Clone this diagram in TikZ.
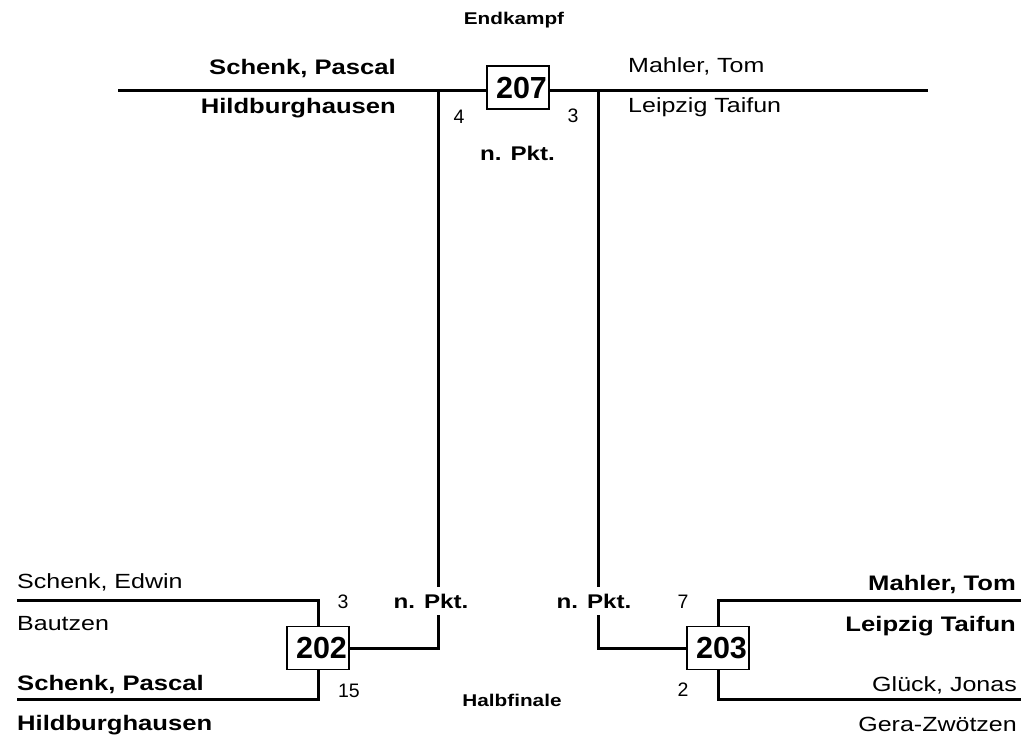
\documentclass[tikz,border=0pt]{standalone}
\usepackage{fontspec}
\setmainfont{Liberation Sans}[FakeStretch=1.22]
\newfontfamily\digitfont{Liberation Sans}
\newcommand{\boxtext}[1]{\hspace*{7pt}\raisebox{-2.5pt}{#1}}
\begin{document}
\begin{tikzpicture}[x=1pt,y=-1pt,
  plainname/.style={inner sep=0pt, font=\fontsize{20.5}{24}\selectfont},
  winname/.style={inner sep=0pt, font=\fontsize{21}{24}\selectfont\bfseries},
  score/.style={inner sep=0pt, font=\digitfont\fontsize{19.5}{22}\selectfont},
  boxnum/.style={draw, fill=white, line width=1.2pt, minimum width=62pt, minimum height=43pt, inner sep=0pt, font=\digitfont\bfseries\fontsize{30.5}{32}\selectfont},
  bline/.style={line width=3pt},
  pkt/.style={inner sep=0pt, minimum height=28pt, font=\bfseries\fontsize{19.8}{22}\selectfont},
  stage/.style={inner sep=0pt, font=\bfseries\fontsize{17}{20}\selectfont}]
\useasboundingbox (0,0) rectangle (1021,739);

% stage labels
\node[stage] (endk) at (514,20) {Endkampf};
\node[stage] (halb) at (512,700) {Halbfinale};

% final
\coordinate (tL) at (118,90.7);
\coordinate (tR) at (928,90.7);
\node[boxnum] (b207) at (518,87.5) {\boxtext{207}};
\draw[bline] (tL) -- (b207.west |- tL);
\draw[bline] (b207.east |- tR) -- (tR);

\node[winname, anchor=base east] (fn1) at (396,74) {Schenk, Pascal};
\node[winname, anchor=base east] (fc1) at (396,113) {Hildburghausen};
\node[plainname, anchor=base west] (fn2) at (628,72.7) {Mahler, Tom};
\node[plainname, anchor=base west] (fc2) at (628,112) {Leipzig Taifun};
\node[score] (s207a) at (459,117) {4};
\node[score] (s207b) at (573,116) {3};
\node[pkt] (pT) at (517.5,153) {n. Pkt.};

% semifinal boxes
\node[boxnum] (b202) at (318,648) {\boxtext{202}};
\node[boxnum] (b203) at (718,648) {\boxtext{203}};

% verticals
\coordinate (vL) at (438,90.7);
\coordinate (vR) at (598,90.7);
\node[pkt] (pL) at (431,601) {n. Pkt.};
\node[pkt] (pR) at (594,601) {n. Pkt.};
\draw[bline] (vL) -- (vL |- pL.north);
\draw[bline] (vL |- pL.south) |- (b202.east);
\draw[bline] (vR) -- (vR |- pR.north);
\draw[bline] (vR |- pR.south) |- (b203.west);

% left bracket
\coordinate (l1) at (17,600);
\coordinate (l2) at (17,699);
\draw[bline] (l1) -| (b202.north);
\draw[bline] (l2) -| (b202.south);
\node[plainname, anchor=base west] (ln1) at (17,588) {Schenk, Edwin};
\node[plainname, anchor=base west] (lc1) at (17,630.7) {Bautzen};
\node[winname, anchor=base west] (ln2) at (17,690.5) {Schenk, Pascal};
\node[winname, anchor=base west] (lc2) at (17,730.5) {Hildburghausen};
\node[score] (s202a) at (343,602) {3};
\node[score] (s202b) at (349,691) {15};

% right bracket
\coordinate (r1) at (1021,600);
\coordinate (r2) at (1021,699);
\draw[bline] (r1) -| (b203.north);
\draw[bline] (r2) -| (b203.south);
\node[winname, anchor=base east] (rn1) at (1016,590) {Mahler, Tom};
\node[winname, anchor=base east] (rc1) at (1016,631.7) {Leipzig Taifun};
\node[plainname, anchor=base east] (rn2) at (1017,691.7) {Glück, Jonas};
\node[plainname, anchor=base east] (rc2) at (1017,731) {Gera-Zwötzen};
\node[score] (s203a) at (683,602) {7};
\node[score] (s203b) at (683,690) {2};
\end{tikzpicture}
\end{document}
